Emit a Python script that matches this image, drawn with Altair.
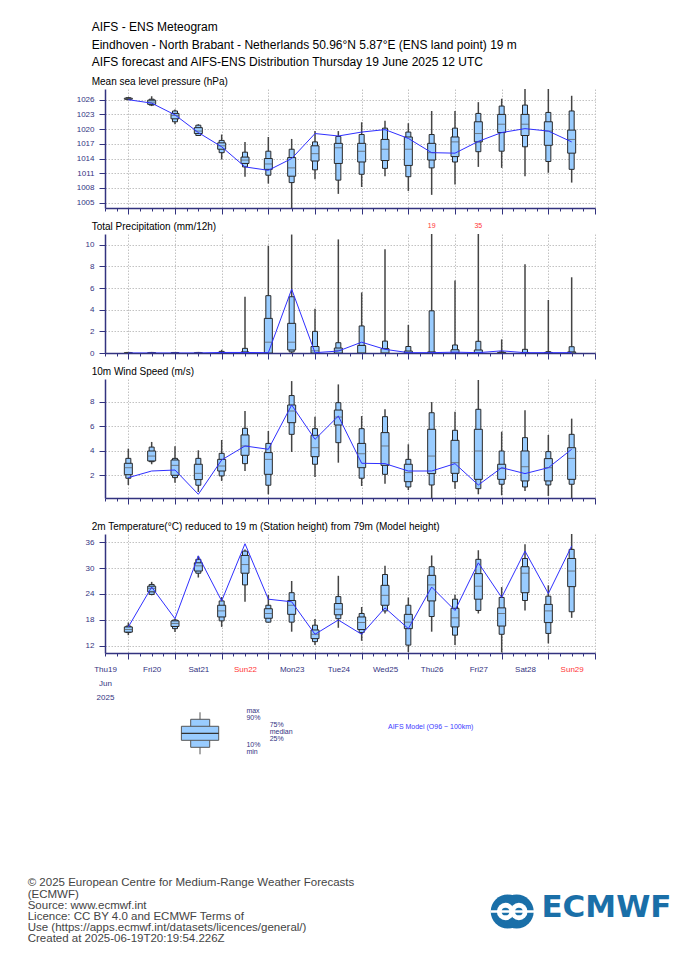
import json
import altair as alt
import pandas as pd

# ---------------- data ----------------
hours = [12 * i for i in range(1, 21)]  # hours after Thu 19 Jun 00 UTC
day_labels = ["Thu19", "Fri20", "Sat21", "Sun22", "Mon23", "Tue24", "Wed25",
              "Thu26", "Fri27", "Sat28", "Sun29"]
first_label_extra = ["Jun", "2025"]
sunday_hours = [72, 240]

header_lines = [
    "AIFS - ENS Meteogram",
    "Eindhoven - North Brabant - Netherlands 50.96\u00b0N 5.87\u00b0E (ENS land point) 19 m",
    "AIFS forecast and AIFS-ENS Distribution Thursday 19 June 2025 12 UTC",
]
panel_titles = [
    "Mean sea level pressure (hPa)",
    "Total Precipitation (mm/12h)",
    "10m Wind Speed (m/s)",
    "2m Temperature(\u00b0C) reduced to 19 m (Station height) from 79m (Model height)",
]
footer_lines = [
    "\u00a9 2025 European Centre for Medium-Range Weather Forecasts",
    "(ECMWF)",
    "Source: www.ecmwf.int",
    "Licence: CC BY 4.0 and ECMWF Terms of",
    "Use (https://apps.ecmwf.int/datasets/licences/general/)",
    "Created at 2025-06-19T20:19:54.226Z",
]
legend_levels = [0, 1, 2, 3, 4, 5, 6]  # min, p10, p25, median, p75, p90, max (schematic)
legend_top_labels = ["max", "90%"]
legend_mid_labels = ["75%", "median", "25%"]
legend_low_labels = ["10%", "min"]
model_label = "AIFS Model (O96 ~ 100km)"
logo_text = "ECMWF"

# Mean sea level pressure (hPa)
p_min = [1025.9, 1024.7, 1021.0, 1018.6, 1013.8, 1010.3, 1008.9, 1003.0, 1009.8, 1006.8,
         1008.2, 1010.4, 1007.4, 1006.6, 1008.7, 1012.3, 1012.1, 1010.4, 1011.1, 1009.1]
p_p10 = [1026.0, 1024.9, 1021.5, 1018.7, 1015.2, 1012.3, 1010.6, 1009.1, 1011.7, 1009.6,
         1010.8, 1012.0, 1010.3, 1012.1, 1013.3, 1015.4, 1015.5, 1016.4, 1013.4, 1011.8]
p_p25 = [1026.1, 1025.05, 1022.1, 1019.1, 1015.9, 1013.0, 1011.8, 1010.4, 1013.5, 1013.0,
         1013.3, 1013.6, 1012.6, 1013.7, 1014.4, 1017.4, 1019.3, 1018.7, 1016.7, 1015.1]
p_med = [1026.2, 1025.5, 1022.8, 1019.6, 1016.6, 1013.7, 1012.9, 1012.1, 1015.0, 1016.2,
         1015.5, 1015.9, 1015.9, 1015.2, 1017.4, 1019.1, 1021.0, 1021.0, 1019.6, 1017.9]
p_p75 = [1026.3, 1025.9, 1023.2, 1020.3, 1017.2, 1014.3, 1014.0, 1014.2, 1016.6, 1017.1,
         1017.1, 1017.9, 1018.4, 1017.1, 1018.4, 1021.5, 1023.0, 1023.0, 1021.5, 1019.8]
p_p90 = [1026.4, 1026.1, 1023.7, 1020.8, 1017.7, 1015.3, 1015.5, 1015.9, 1017.4, 1018.5,
         1018.9, 1020.2, 1019.4, 1018.9, 1020.2, 1023.2, 1024.7, 1024.9, 1023.4, 1023.7]
p_max = [1026.5, 1026.7, 1024.0, 1021.0, 1018.9, 1017.4, 1018.4, 1018.0, 1019.6, 1019.6,
         1021.4, 1021.7, 1021.2, 1023.7, 1023.7, 1025.5, 1026.2, 1028.5, 1028.4, 1026.8]
p_det = [1026.0, 1025.3, 1022.9, 1019.3, 1016.4, 1012.3, 1011.6, 1014.0, 1019.1, 1018.6,
         1019.4, 1019.9, 1018.1, 1015.2, 1015.1, 1017.5, 1019.3, 1020.1, 1019.6, 1017.4]

# Total precipitation (mm/12h)
r_min = [0.0] * 20
r_p10 = [0, 0, 0, 0, 0, 0, 0, 0.1, 0, 0, 0, 0, 0, 0, 0, 0, 0, 0, 0, 0]
r_p25 = [0, 0, 0, 0, 0, 0, 0, 0.28, 0, 0, 0, 0, 0, 0, 0, 0, 0, 0, 0, 0]
r_med = [0, 0, 0, 0, 0, 0, 1.0, 1.0, 0.2, 0.25, 0, 0, 0, 0, 0, 0, 0, 0, 0, 0]
r_p75 = [0.02, 0.02, 0.02, 0.02, 0.05, 0.1, 3.2, 2.74, 0.6, 0.46,
         0.7, 0.4, 0.18, 0.1, 0.3, 0.28, 0.05, 0.05, 0.05, 0.1]
r_p90 = [0.05, 0.05, 0.05, 0.05, 0.15, 0.43, 5.3, 5.2, 2.0, 0.95,
         2.5, 1.1, 0.6, 3.9, 0.74, 1.08, 0.1, 0.34, 0.12, 0.58]
r_max = [0.1, 0.1, 0.1, 0.1, 0.3, 5.2, 9.9, 10.95, 4.1, 10.5,
         5.6, 9.6, 2.6, 19, 6.7, 35, 1.26, 8.2, 4.9, 7.0]
r_det = [0, 0, 0, 0, 0.05, 0.05, 0.03, 5.9, 0.03, 0.18,
         1.0, 0.34, 0.03, 0.03, 0.08, 0.03, 0.2, 0.03, 0.03, 0.03]

# 10m wind speed (m/s)
w_min = [1.21, 2.9, 1.4, 0.64, 1.54, 2.35, 0.45, 3.9, 1.86, 3.03,
         1.13, 1.32, 0.8, 0.13, 0.91, 0.45, 0.37, 0.72, 0.32, 0.15]
w_p10 = [1.76, 3.11, 1.81, 1.19, 1.95, 2.95, 1.19, 5.34, 2.9, 4.66,
         1.76, 2.08, 1.05, 1.21, 1.48, 0.91, 1.27, 1.05, 1.21, 1.27]
w_p25 = [2.05, 3.17, 2.0, 1.65, 2.35, 3.63, 2.08, 6.29, 3.52, 6.1,
         2.62, 2.81, 1.48, 2.14, 2.16, 1.67, 1.67, 1.54, 1.54, 1.67]
w_med = [2.62, 3.57, 2.81, 2.16, 2.76, 4.39, 3.3, 7.24, 4.25, 6.75,
         3.76, 4.39, 2.22, 3.57, 3.03, 3.98, 2.57, 2.7, 2.62, 3.38]
w_p75 = [2.98, 3.98, 3.25, 2.9, 3.3, 5.29, 3.85, 7.73, 5.26, 7.32,
         4.6, 5.48, 2.9, 5.75, 4.85, 5.75, 2.9, 3.98, 3.36, 4.25]
w_p90 = [3.38, 4.3, 3.38, 3.38, 3.79, 5.83, 4.6, 8.5, 5.8, 7.92,
         5.8, 6.78, 3.3, 7.1, 5.67, 7.38, 3.98, 5.07, 3.93, 5.34]
w_max = [4.17, 4.72, 4.36, 4.04, 4.88, 7.24, 5.61, 9.68, 6.78, 9.41,
         6.83, 7.38, 4.53, 7.97, 7.19, 9.77, 5.56, 7.3, 5.29, 6.62]
w_det = [1.81, 2.35, 2.43, 0.45, 3.25, 4.39, 4.12, 7.73, 4.93, 6.83,
         2.98, 2.95, 2.35, 2.35, 2.95, 1.21, 2.62, 2.14, 2.62, 4.12]

# 2m temperature (degC)
t_min = [14.5, 23.7, 15.2, 27.8, 16.4, 22.2, 17.4, 15.3, 12.2, 16.2,
         13.2, 19.5, 10.6, 15.3, 12.2, 19.5, 10.5, 20.2, 12.6, 18.5]
t_p10 = [15.1, 23.9, 16.0, 28.8, 17.8, 26.1, 17.5, 17.5, 13.0, 18.3,
         15.1, 20.1, 12.2, 18.8, 14.5, 20.2, 14.7, 22.5, 14.9, 19.9]
t_p25 = [15.2, 24.5, 16.5, 29.3, 18.7, 28.8, 18.4, 19.3, 13.7, 19.2,
         15.8, 21.4, 16.0, 22.4, 16.4, 22.8, 16.6, 24.3, 17.4, 25.7]
t_med = [15.8, 25.3, 17.2, 30.5, 20.1, 30.8, 19.5, 21.4, 14.7, 20.5,
         17.4, 23.7, 17.5, 26.1, 18.5, 25.8, 19.5, 28.8, 20.1, 29.3]
t_p75 = [16.4, 25.8, 17.8, 31.2, 21.4, 32.9, 20.6, 22.5, 15.7, 21.8,
         18.7, 26.0, 19.3, 28.3, 20.7, 28.7, 20.8, 30.3, 21.6, 32.2]
t_p90 = [16.6, 26.2, 18.0, 32.0, 22.4, 33.9, 21.4, 24.3, 16.8, 23.4,
         19.5, 28.5, 21.4, 30.3, 22.8, 32.0, 23.2, 32.2, 23.5, 34.3]
t_max = [17.4, 26.8, 18.3, 32.8, 23.3, 34.3, 23.8, 27.0, 18.2, 28.2,
         21.0, 30.5, 23.2, 32.9, 23.8, 34.1, 25.6, 35.5, 26.0, 38.5]
t_det = [16.4, 25.6, 18.3, 32.8, 22.4, 35.6, 22.8, 22.2, 14.7, 18.0,
         14.7, 20.8, 16.0, 25.6, 20.2, 31.2, 23.2, 33.9, 24.1, 35.1]

# ---------------- style ----------------
FONT = "Liberation Sans"
NAVY = "#33337f"
FILL = "#99ccff"
EDGE = "#2a2a2a"
DETC = "#2f2fff"
RED = "#ff3535"
LOGO = "#1a6fa8"
W, H = 490, 119

one = pd.DataFrame({"k": [0]})


def frame(mn, p10, p25, med, p75, p90, mx, det):
    return pd.DataFrame({"hour": hours, "mn": mn, "p10": p10, "p25": p25, "med": med,
                         "p75": p75, "p90": p90, "mx": mx, "det": det})


xscale = alt.Scale(domain=[0, 252], nice=False, zero=False, padding=0)
xticks = list(range(0, 253, 6))
is_major = "datum.value % 24 == 12"


def xaxis(labels):
    args = dict(values=xticks, title=None, grid=True, gridColor="#c2c2c2",
                gridDash=[1.5, 1.5], gridWidth=1,
                gridOpacity={"condition": {"test": is_major, "value": 1}, "value": 0},
                tickSize={"condition": {"test": is_major, "value": 6}, "value": 3},
                tickColor=NAVY, tickWidth=1, domainColor=NAVY, domainWidth=1.5)
    if labels:
        first = json.dumps([day_labels[0]] + first_label_extra)
        names = json.dumps(day_labels)
        expr = (f"datum.value == 0 ? {first} : "
                f"(datum.value % 24 == 0 ? {names}[datum.value / 24] : '')")
        sun = " || ".join(f"datum.value == {h}" for h in sunday_hours)
        args.update(labelExpr=expr, labelFontSize=8, labelFont=FONT,
                    labelColor={"condition": {"test": sun, "value": RED}, "value": NAVY},
                    labelPadding=9, labelLineHeight=14, labelFlush=False,
                    labelOverlap=False)
    else:
        args.update(labels=False)
    return alt.Axis(**args)


def yaxis(values):
    return alt.Axis(values=values, format="d", title=None, grid=True, gridColor="#c2c2c2",
                    gridDash=[1.5, 1.5], gridWidth=1, tickSize=6, tickColor=NAVY,
                    domainColor=NAVY, domainWidth=1.5, labelColor=NAVY,
                    labelFontSize=8, labelFont=FONT, labelPadding=5)


def panel(df, ydom, yvals, title, xlabels=False, extra=()):
    ys = alt.Scale(domain=ydom, nice=False, zero=False, padding=0)
    xa = xaxis(xlabels)
    ya = yaxis(yvals)

    def X():
        return alt.X("hour:Q", scale=xscale, axis=xa)

    def Y(f):
        return alt.Y(f + ":Q", scale=ys, axis=ya)

    base = alt.Chart(df)
    whisk = base.mark_rule(color="#444444", strokeWidth=1.5, clip=True).encode(
        x=X(), y=Y("mn"), y2="mx:Q")
    narrow = base.mark_bar(size=5, fill=FILL, stroke=EDGE, strokeWidth=1, clip=True).encode(
        x=X(), y=Y("p10"), y2="p90:Q")
    wide = base.mark_bar(size=8, fill=FILL, stroke=EDGE, strokeWidth=1, clip=True).encode(
        x=X(), y=Y("p25"), y2="p75:Q")
    med = base.mark_tick(orient="horizontal", size=8, thickness=1, color="#555555",
                         clip=True).encode(x=X(), y=Y("med"))
    det = base.mark_line(color=DETC, strokeWidth=1, clip=True).encode(x=X(), y=Y("det"))
    ttl = alt.Chart(one).mark_text(align="left", baseline="alphabetic", fontSize=10,
                                   font=FONT, color="#000000").encode(
        x=alt.value(-13.3), y=alt.value(-4), text=alt.value(title))
    layers = [whisk, narrow, wide, med, det, ttl]
    for e in extra:
        layers.append(e(base, X))
    return alt.layer(*layers).properties(
        width=W, height=H, view=alt.ViewBackground(stroke="#a8a8a8", strokeWidth=1))


def header_layer(base, X):
    return alt.Chart(one).mark_text(align="left", baseline="top", fontSize=12,
                                    lineHeight=17.6, font=FONT, color="#000000").encode(
        x=alt.value(-13.3), y=alt.value(-67), text=alt.value(header_lines))


def overflow_layer(base, X):
    return base.transform_filter("datum.mx > 11").mark_text(
        fontSize=7, font=FONT, color=RED, baseline="alphabetic").encode(
        x=X(), y=alt.value(-6), text=alt.Text("mx:Q", format="d"))


p1 = panel(frame(p_min, p_p10, p_p25, p_med, p_p75, p_p90, p_max, p_det),
           [1003.92, 1028.18], list(range(1005, 1027, 3)), panel_titles[0],
           extra=(header_layer,))
p2 = panel(frame(r_min, r_p10, r_p25, r_med, r_p75, r_p90, r_max, r_det),
           [0, 11.0], [0, 2, 4, 6, 8, 10], panel_titles[1], extra=(overflow_layer,))
p3 = panel(frame(w_min, w_p10, w_p25, w_med, w_p75, w_p90, w_max, w_det),
           [0.15, 9.85], [2, 4, 6, 8], panel_titles[2])
p4 = panel(frame(t_min, t_p10, t_p25, t_med, t_p75, t_p90, t_max, t_det),
           [10.38, 37.85], [12, 18, 24, 30, 36], panel_titles[3], xlabels=True)


def spacer(h):
    return alt.Chart(one).mark_point(opacity=0).encode(
        x=alt.value(0), y=alt.value(0)).properties(
        width=W, height=h, view=alt.ViewBackground(strokeOpacity=0))


# ---------------- legend + footer ----------------
lg = pd.DataFrame({"mn": [legend_levels[0]], "p10": [legend_levels[1]],
                   "p25": [legend_levels[2]], "med": [legend_levels[3]],
                   "p75": [legend_levels[4]], "p90": [legend_levels[5]],
                   "mx": [legend_levels[6]]})
lgs = alt.Scale(domain=[-1.243, 14.47], nice=False, zero=False, padding=0)


def LY(f):
    return alt.Y(f + ":Q", scale=lgs, axis=None)


lbase = alt.Chart(lg)
l_whisk = lbase.mark_rule(color="#555555", strokeWidth=1).encode(
    x=alt.value(95), y=LY("mn"), y2="mx:Q")
l_narrow = lbase.mark_bar(fill=FILL, stroke="#555555", strokeWidth=1).encode(
    x=alt.value(85.7), x2=alt.value(104.7), y=LY("p10"), y2="p90:Q")
l_wide = lbase.mark_bar(fill=FILL, stroke="#555555", strokeWidth=1).encode(
    x=alt.value(76.4), x2=alt.value(113.7), y=LY("p25"), y2="p75:Q")
l_med = lbase.mark_rule(color="#333333", strokeWidth=1.2).encode(
    x=alt.value(76.4), x2=alt.value(113.7), y=LY("med"))


def ltext(lines, x, y, lh, color=NAVY):
    return alt.Chart(one).mark_text(align="left", baseline="top", fontSize=7,
                                    lineHeight=lh, font=FONT, color=color).encode(
        x=alt.value(x), y=alt.value(y), text=alt.value(lines))


l_t1 = ltext(legend_top_labels, 141.4, 53.7, 7.5)
l_t2 = ltext(legend_mid_labels, 164.7, 67.8, 7.0)
l_t3 = ltext(legend_low_labels, 141.4, 87.8, 7.2)
l_model = alt.Chart(one).mark_text(align="left", baseline="alphabetic", fontSize=7,
                                   font=FONT, color="#3b3bff").encode(
    x=alt.value(283), y=alt.value(76.2), text=alt.value(model_label))

footer = alt.Chart(one).mark_text(align="left", baseline="top", fontSize=11.5,
                                  lineHeight=11.2, font=FONT, color="#444444").encode(
    x=alt.value(-77.3), y=alt.value(224.4), text=alt.value(footer_lines))


def dot(x, y, size, color):
    return alt.Chart(one).mark_circle(size=size, color=color, opacity=1).encode(
        x=alt.value(x), y=alt.value(y))


logo_parts = [
    dot(402.7, 258.5, 1156, LOGO), dot(411.7, 258.5, 1156, LOGO),
    dot(400.5, 258.5, 300, "#ffffff"), dot(413.9, 258.5, 300, "#ffffff"),
    dot(400.5, 258.5, 60, LOGO), dot(413.9, 258.5, 60, LOGO),
    alt.Chart(one).mark_rule(color="#ffffff", strokeWidth=2.5).encode(
        x=alt.value(385.5), x2=alt.value(429), y=alt.value(258.5)),
    alt.Chart(one).mark_text(align="left", baseline="alphabetic", fontSize=31,
                             font="DejaVu Sans", fontWeight="bold", color=LOGO).encode(
        x=alt.value(436.4), y=alt.value(264), text=alt.value(logo_text)),
]

bottom = alt.layer(l_whisk, l_narrow, l_wide, l_med, l_t1, l_t2, l_t3, l_model,
                   footer, *logo_parts).properties(
    width=W, height=110, view=alt.ViewBackground(strokeOpacity=0))

chart = alt.vconcat(p1, spacer(26), p2, spacer(26), p3, spacer(36), p4, bottom,
                    spacing=0, bounds="flush").properties(
    padding={"left": 19, "top": 13, "right": 5, "bottom": 5},
    background="#ffffff",
).configure_view(strokeOpacity=0).configure_text(font=FONT)

chart.save("out.html", embed_options={"renderer": "svg", "actions": False})
